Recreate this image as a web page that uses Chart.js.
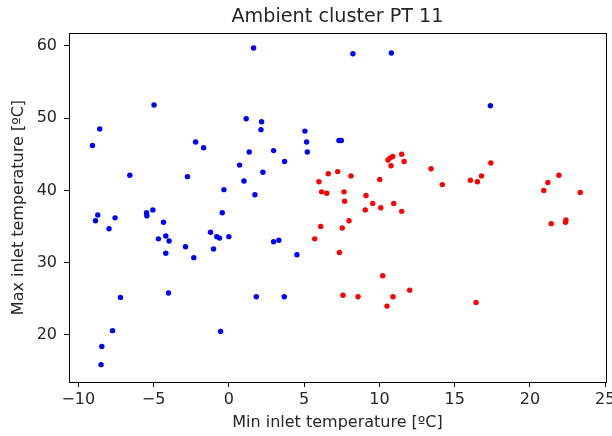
<!DOCTYPE html>
<html>
<head>
<meta charset="utf-8">
<script src="https://cdn.jsdelivr.net/npm/chart.js@4"></script>
<style>
  body { margin: 0; background: #fff; }
  .chart-container { width: 612px; height: 436px; position: relative; }
</style>
</head>
<body>
<div class="chart-container">
  <canvas id="ptChart"></canvas>
</div>
<script>
const titleText = "Ambient cluster PT 11";
const xLabel = "Min inlet temperature [ºC]";
const yLabel = "Max inlet temperature [ºC]";

// cluster 0 (blue)
const blueX = [-4.97, -8.58, -9.06, -2.21, -1.68, 1.15, 1.35, 0.71, 1.0, -6.58,
    -2.75, -0.33, -8.71, -7.56, -5.47, -5.45, -5.05, -0.44, -8.86, -7.96,
    -4.34, -4.68, -4.19, -3.97, -4.19, -2.88, -2.33, -1.22, -0.8, -0.62,
    0.0, -1.02, -7.2, -4.01, -7.73, -8.44, -8.49, -0.55, 1.64, 8.24,
    10.79, 2.17, 2.13, 5.05, 5.16, 5.21, 7.31, 7.47, 2.97, 3.70,
    2.26, 1.73, 2.97, 3.32, 4.52, 1.82, 3.68, 17.37];
const blueY = [51.8, 48.5, 46.2, 46.7, 45.9, 49.9, 45.3, 43.5, 41.3, 42.1,
    41.9, 40.1, 36.6, 36.2, 36.9, 36.5, 37.3, 36.9, 35.8, 34.7,
    35.6, 33.3, 33.7, 33.0, 31.3, 32.2, 30.7, 34.2, 33.6, 33.4,
    33.6, 31.9, 25.2, 25.8, 20.6, 18.4, 15.9, 20.5, 59.7, 58.9,
    59.0, 49.5, 48.4, 48.2, 46.7, 45.3, 46.9, 46.9, 45.5, 44.0,
    42.5, 39.4, 32.9, 33.1, 31.1, 25.3, 25.3, 51.7];

// cluster 1 (red)
const redX = [5.98, 6.60, 7.23, 8.11, 6.16, 6.50, 7.65, 7.69, 9.11, 9.55,
    10.09, 9.06, 10.95, 11.48, 10.02, 10.57, 10.73, 10.88, 10.77, 11.48,
    11.64, 7.98, 6.10, 7.53, 5.70, 7.34, 10.22, 7.58, 8.58, 10.90,
    10.5, 12.01, 13.43, 14.18, 16.04, 16.51, 16.78, 17.4, 21.92, 21.19,
    20.92, 23.34, 21.41, 22.39, 22.36, 16.42];
const redY = [41.2, 42.3, 42.6, 42.0, 39.8, 39.6, 39.8, 38.5, 39.3, 38.2,
    37.6, 37.3, 38.2, 37.1, 41.5, 44.2, 44.5, 44.7, 43.4, 45.0,
    44.0, 35.8, 35.0, 34.8, 33.3, 31.4, 28.2, 25.5, 25.3, 25.3,
    24.0, 26.2, 43.0, 40.8, 41.4, 41.2, 42.0, 43.8, 42.1, 41.1,
    40.0, 39.7, 35.4, 35.9, 35.6, 24.5];

const xTicks = [-10, -5, 0, 5, 10, 15, 20, 25];
const yTicks = [20, 30, 40, 50, 60];

const toPoints = (xs, ys) => xs.map((x, i) => ({ x: x, y: ys[i] }));

const fontFamily = "'DejaVu Sans', sans-serif";
const textColor = "#262626";

// box around the axes, like matplotlib spines
const frame = {
    id: "frame",
    afterDraw(chart) {
        const { ctx, chartArea } = chart;
        ctx.save();
        ctx.strokeStyle = "#000";
        ctx.lineWidth = 1;
        ctx.strokeRect(Math.round(chartArea.left) + 0.5, Math.round(chartArea.top) + 0.5,
            Math.round(chartArea.right - chartArea.left), Math.round(chartArea.bottom - chartArea.top));
        ctx.restore();
    }
};

const ctx = document.getElementById("ptChart").getContext("2d");

new Chart(ctx, {
    type: "scatter",
    data: {
        datasets: [
            {
                data: toPoints(blueX, blueY),
                backgroundColor: "#0000ff",
                borderWidth: 0,
                pointRadius: 2.7,
            },
            {
                data: toPoints(redX, redY),
                backgroundColor: "#ff0000",
                borderWidth: 0,
                pointRadius: 2.7,
            },
        ],
    },
    plugins: [frame],
    options: {
        responsive: true,
        maintainAspectRatio: false,
        animation: false,
        devicePixelRatio: 1,
        layout: {
            padding: { top: 0, right: 6, bottom: 0, left: 0 },
        },
        scales: {
            x: {
                type: "linear",
                min: -10.62,
                max: 25.05,
                afterBuildTicks: (scale) => {
                    scale.ticks = xTicks.map((v) => ({ value: v }));
                },
                afterFit: (scale) => {
                    scale.height = 54;
                    scale.paddingLeft = 0;
                    scale.paddingRight = 0;
                },
                grid: {
                    drawOnChartArea: false,
                    drawTicks: true,
                    tickLength: 5,
                    tickColor: "#000",
                },
                border: { display: false },
                ticks: {
                    color: textColor,
                    padding: 3,
                    maxRotation: 0,
                    autoSkip: false,
                    font: { family: fontFamily, size: 16 },
                    callback: (v) => (v < 0 ? "\u2212" + Math.abs(v) : "" + v),
                },
                title: {
                    display: true,
                    text: xLabel,
                    color: textColor,
                    padding: { top: 0, bottom: 4 },
                    font: { family: fontFamily, size: 16 },
                },
            },
            y: {
                type: "linear",
                min: 13.5,
                max: 61.76,
                afterBuildTicks: (scale) => {
                    scale.ticks = yTicks.map((v) => ({ value: v }));
                },
                afterFit: (scale) => {
                    scale.width = 69;
                    scale.paddingTop = 0;
                    scale.paddingBottom = 0;
                },
                grid: {
                    drawOnChartArea: false,
                    drawTicks: true,
                    tickLength: 5,
                    tickColor: "#000",
                },
                border: { display: false },
                ticks: {
                    color: textColor,
                    padding: 7,
                    autoSkip: false,
                    font: { family: fontFamily, size: 16 },
                },
                title: {
                    display: true,
                    text: yLabel,
                    color: textColor,
                    padding: { top: 9.5, bottom: 0 },
                    font: { family: fontFamily, size: 16 },
                },
            },
        },
        plugins: {
            legend: { display: false },
            tooltip: { enabled: false },
            title: {
                display: true,
                text: titleText,
                color: textColor,
                fullSize: false,
                padding: { top: 5, bottom: 5 },
                font: { family: fontFamily, size: 19.2, weight: "normal" },
            },
        },
    },
});
</script>
</body>
</html>
